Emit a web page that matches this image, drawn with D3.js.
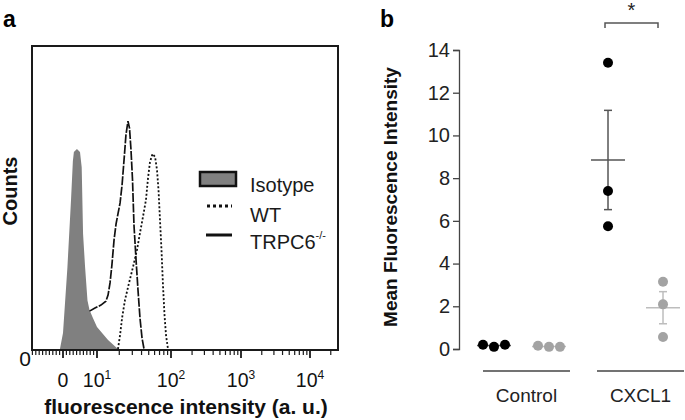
<!DOCTYPE html>
<html><head><meta charset="utf-8">
<script src="https://cdn.jsdelivr.net/npm/d3@7"></script>
<style>body{margin:0;background:#fff} svg text{font-family:"Liberation Sans",Arial,sans-serif}</style>
</head><body><svg id="c" width="685" height="420"></svg>
<script>
// ---------- Panel a data (fluorescence intensity, counts as % of max scale) ----------
const isoX     = [-0.9, 0, 1.3, 2.35, 2.9, 3.2, 4.1, 5.0, 5.5, 5.9, 6.5, 7.2, 7.8, 8.8, 10, 14.1, 19.2];
const isoCount = [0, 5.3, 27, 49, 62, 65, 66, 65, 60, 38, 27, 16, 12.9, 10.2, 7.3, 3, 0];
const koX      = [7.8, 9.4, 11.3, 13.2, 14.1, 15.0, 15.9, 17.0, 18.1, 19.2, 20.5, 21.8, 23.2, 24.6, 26.2, 27.5, 28.8, 30.2, 31.6, 33.7, 35.8, 38.1, 40.6, 43.2];
const koCount  = [12.5, 13.5, 14.5, 15.8, 17.8, 21.8, 27.7, 36, 41.3, 44.6, 48.2, 54.1, 62.4, 70.6, 75.2, 72.9, 65.7, 55.8, 40.9, 29.4, 19.5, 10.2, 3.6, 0];
const wtX      = [19.2, 20.5, 21.8, 23.9, 27.1, 30.7, 34.7, 38.1, 41.8, 45.9, 48.9, 52.0, 56.3, 60.9, 64.7, 67.8, 71.0, 74.4, 77.9, 81.7, 85.6, 91.0];
const wtCount  = [0, 4.6, 10.2, 16.2, 21.8, 27.1, 32.7, 38.3, 43.6, 49.2, 56.4, 61.7, 64.4, 63.4, 59.1, 52.5, 42.6, 32.7, 21.1, 11.2, 4.6, 0];
const majorTicks = [0, 10, 100, 1000, 10000];
const majorBase  = ["0", "10", "10", "10", "10"];
const majorExp   = ["", "1", "2", "3", "4"];
const legendNames = ["Isotype", "WT", "TRPC6"];

// ---------- Panel b data ----------
const groups = ["Control", "CXCL1"];
const seriesNames = ["WT", "TRPC6-/-"];
const wtMFI = [[0.2, 0.1, 0.2], [13.4, 7.4, 5.75]];
const koMFI = [[0.15, 0.1, 0.1], [3.15, 2.09, 0.56]];
const yTicksB = [0, 2, 4, 6, 8, 10, 12, 14];

const svg = d3.select("#c");

// ================= Panel a =================
const xLin = d3.scaleLinear().domain([-10, 0, 10]).range([29, 63, 97]);
const xLog = d3.scaleLog().domain([10, 100, 1000, 10000]).range([97, 171, 241, 310]);
const fx = v => v < 10 ? xLin(v) : xLog(v);
const yA = d3.scaleLinear().domain([0, 100]).range([349, 46]);

const gA = svg.append("g");
const iso = isoX.map((x, i) => [x, isoCount[i]]);
const ko = koX.map((x, i) => [x, koCount[i]]);
const wt = wtX.map((x, i) => [x, wtCount[i]]);

gA.append("path").datum(iso)
  .attr("d", d3.area().x(d => fx(d[0])).y0(yA(0)).y1(d => yA(d[1])))
  .attr("fill", "#808080");
const line = d3.line().x(d => fx(d[0])).y(d => yA(d[1]));
gA.append("path").datum(wt).attr("d", line)
  .attr("fill", "none").attr("stroke", "#111").attr("stroke-width", 1.8).attr("stroke-dasharray", "2,2");
gA.append("path").datum(ko).attr("d", line)
  .attr("fill", "none").attr("stroke", "#111").attr("stroke-width", 1.7).attr("stroke-dasharray", "9,1.5");

// box
gA.append("rect").attr("x", 32).attr("y", 46).attr("width", 306).attr("height", 304)
  .attr("fill", "none").attr("stroke", "#1a1a1a").attr("stroke-width", 2);

// ticks
const minor = [].concat(d3.range(-9, 0), d3.range(1, 10));
[10, 100, 1000].forEach(dec => d3.range(2, 10).forEach(k => minor.push(k * dec)));
minor.push(20000);
gA.selectAll("line.mi").data(minor).join("line")
  .attr("x1", d => fx(d)).attr("x2", d => fx(d)).attr("y1", 350).attr("y2", 355)
  .attr("stroke", "#1a1a1a").attr("stroke-width", 1.2);
gA.selectAll("line.ma").data(majorTicks).join("line")
  .attr("x1", d => fx(d)).attr("x2", d => fx(d)).attr("y1", 350).attr("y2", 358)
  .attr("stroke", "#1a1a1a").attr("stroke-width", 1.8);
const tl = gA.selectAll("text.tl").data(majorTicks).join("text")
  .attr("x", d => fx(d)).attr("y", 387).attr("text-anchor", "middle")
  .attr("font-size", 19.5).attr("fill", "#111");
tl.append("tspan").text((d, i) => majorBase[i]);
tl.append("tspan").attr("dy", -8).attr("font-size", 12).text((d, i) => majorExp[i]);

gA.append("text").attr("x", 186).attr("y", 414).attr("text-anchor", "middle")
  .attr("font-size", 21).attr("font-weight", "bold").attr("fill", "#111")
  .text("fluorescence intensity (a. u.)");
gA.append("text").attr("x", 31).attr("y", 366).attr("text-anchor", "end")
  .attr("font-size", 21).attr("fill", "#111").text("0");
gA.append("text").attr("transform", "translate(17,191) rotate(-90)").attr("text-anchor", "middle")
  .attr("font-size", 20).attr("font-weight", "bold").attr("fill", "#111").text("Counts");
gA.append("text").attr("x", 3).attr("y", 27).attr("font-size", 23).attr("font-weight", "bold").text("a");

// legend
const lg = gA.append("g");
lg.append("rect").attr("x", 200).attr("y", 172).attr("width", 36).attr("height", 14)
  .attr("fill", "#808080").attr("stroke", "#111").attr("stroke-width", 2.5);
lg.append("line").attr("x1", 207).attr("x2", 232).attr("y1", 206).attr("y2", 206)
  .attr("stroke", "#111").attr("stroke-width", 3).attr("stroke-dasharray", "3,3");
lg.append("line").attr("x1", 206).attr("x2", 232).attr("y1", 235).attr("y2", 235)
  .attr("stroke", "#111").attr("stroke-width", 3);
const lty = [192, 222, 249];
legendNames.forEach((n, i) => {
  const t = lg.append("text").attr("x", 250).attr("y", lty[i]).attr("font-size", 20).attr("fill", "#1a1a1a");
  t.append("tspan").text(n);
  if (i === 2) t.append("tspan").attr("dy", -10).attr("font-size", 11).text("-/-");
});

// ================= Panel b =================
const gB = svg.append("g");
const yB = d3.scaleLinear().domain([0, 14]).range([349, 50]);
const xBand = d3.scaleBand().domain(groups).range([483, 684]).paddingInner(0.237);
const xSer = d3.scalePoint().domain(seriesNames).range([-32.5, 22.5]);
const r = 5;

const ax = gB.append("g").attr("transform", "translate(459,0)")
  .call(d3.axisLeft(yB).tickValues(yTicksB).tickSize(6).tickPadding(3));
ax.select(".domain").attr("stroke", "#444").attr("stroke-width", 1.3);
ax.selectAll(".tick line").attr("stroke", "#444").attr("stroke-width", 1.3);
ax.selectAll(".tick text").attr("font-size", 20).attr("fill", "#222")
  .attr("font-family", "Liberation Sans, Arial, sans-serif");

gB.append("text").attr("transform", "translate(397,197) rotate(-90)").attr("text-anchor", "middle")
  .attr("font-size", 19).attr("font-weight", "bold").attr("fill", "#111").text("Mean Fluorescence Intensity");
gB.append("text").attr("x", 380).attr("y", 27).attr("font-size", 23).attr("font-weight", "bold").text("b");

// group underlines and labels
groups.forEach(g => {
  gB.append("line").attr("x1", xBand(g)).attr("x2", xBand(g) + xBand.bandwidth())
    .attr("y1", 371).attr("y2", 371).attr("stroke", "#444").attr("stroke-width", 1.3);
  gB.append("text").attr("x", xBand(g) + xBand.bandwidth() / 2).attr("y", 402)
    .attr("text-anchor", "middle").attr("font-size", 19).attr("fill", "#222").text(g);
});

const seriesData = [wtMFI, koMFI];
const dotColor = ["#000", "#a3a3a3"];
const barColor = ["#555", "#bdbdbd"];
groups.forEach((g, gi) => {
  seriesNames.forEach((s, si) => {
    const vals = seriesData[si][gi];
    const cx = xBand(g) + xBand.bandwidth() / 2 + xSer(s);
    const mean = d3.mean(vals);
    const sem = d3.deviation(vals) / Math.sqrt(vals.length);
    const ys = vals.map(v => yB(v));
    const clustered = d3.max(ys) - d3.min(ys) < 2 * r;
    gB.append("line").attr("x1", cx - 17).attr("x2", cx + 17).attr("y1", yB(mean)).attr("y2", yB(mean))
      .attr("stroke", barColor[si]).attr("stroke-width", 1.5);
    gB.append("line").attr("x1", cx).attr("x2", cx).attr("y1", yB(mean + sem)).attr("y2", yB(mean - sem))
      .attr("stroke", barColor[si]).attr("stroke-width", 1.5);
    [mean + sem, mean - sem].forEach(v => gB.append("line").attr("x1", cx - 4).attr("x2", cx + 4)
      .attr("y1", yB(v)).attr("y2", yB(v)).attr("stroke", barColor[si]).attr("stroke-width", 1.5));
    gB.selectAll(null).data(vals).join("circle")
      .attr("cx", (d, i) => cx + (clustered ? (i - (vals.length - 1) / 2) * (2 * r + 1) : 0))
      .attr("cy", d => yB(d)).attr("r", r).attr("fill", dotColor[si]);
  });
});

// significance bracket between WT and TRPC6-/- in CXCL1
const bx1 = xBand("CXCL1") + xBand.bandwidth() / 2 + xSer("WT") - 3;
const bx2 = xBand("CXCL1") + xBand.bandwidth() / 2 + xSer("TRPC6-/-") - 5;
gB.append("path").attr("d", `M${bx1},28V23H${bx2}V28`).attr("fill", "none")
  .attr("stroke", "#555").attr("stroke-width", 1.5);
gB.append("text").attr("x", (bx1 + bx2) / 2).attr("y", 17).attr("text-anchor", "middle")
  .attr("font-size", 20).attr("fill", "#222").text("*");
</script></body></html>
